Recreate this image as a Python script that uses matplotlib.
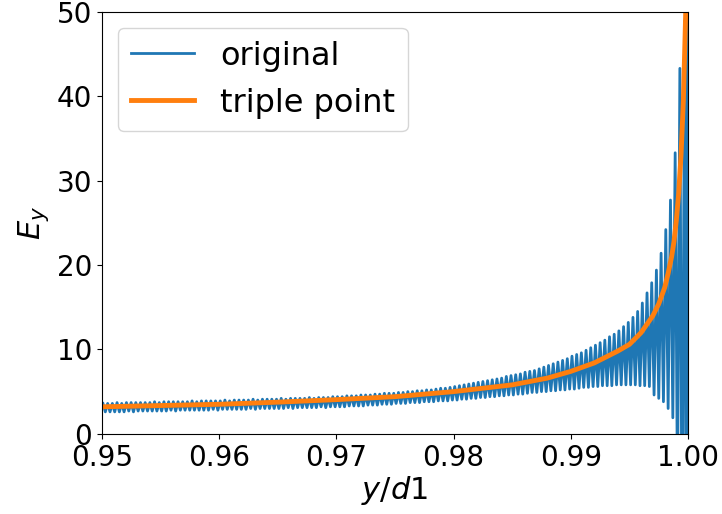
import matplotlib
matplotlib.use('Agg')
import matplotlib.pyplot as plt
import numpy as np

plt.rcParams['font.size'] = 22
plt.rcParams['xtick.labelsize'] = 20
plt.rcParams['ytick.labelsize'] = 20

# triple point curve
tp_x = [0.950, 0.955, 0.960, 0.965, 0.970, 0.975, 0.980, 0.985, 0.988, 0.990,
        0.992, 0.994, 0.995, 0.996, 0.997, 0.9975, 0.998, 0.9983, 0.9986,
        0.9988, 0.999, 0.9992, 0.9994, 0.9996, 0.9998, 0.9999]
tp_E = [3.2, 3.35, 3.5, 3.75, 4.05, 4.4, 5.0, 5.8, 6.6, 7.4,
        8.4, 9.8, 10.6, 12.0, 14.0, 15.4, 17.3, 19.0, 21.0,
        22.8, 25.3, 28.5, 33.0, 39.5, 50.0, 58.0]

# original (oscillating) field: one peak and one trough per mesh period
period = 0.0004
peaks = [3.6, 3.6, 3.6, 3.7, 3.6, 3.7, 3.7, 3.7, 3.7, 3.7, 3.7, 3.8, 3.7, 3.8, 3.8, 3.8, 3.8, 3.8, 3.8, 3.9, 3.8, 3.9, 3.9, 3.9, 3.9,
         3.9, 4.0, 3.9, 4.0, 4.0, 4.0, 4.0, 4.1, 4.0, 4.1, 4.1, 4.1, 4.1, 4.2, 4.1, 4.2, 4.2, 4.2, 4.2, 4.3, 4.2, 4.3, 4.3, 4.3, 4.4,
         4.4, 4.4, 4.5, 4.5, 4.5, 4.6, 4.6, 4.6, 4.7, 4.7, 4.8, 4.8, 4.8, 4.9, 4.9, 5.0, 5.0, 5.1, 5.1, 5.2, 5.2, 5.3, 5.4, 5.4, 5.5,
         5.6, 5.7, 5.8, 5.9, 6.0, 6.1, 6.2, 6.3, 6.4, 6.5, 6.6, 6.8, 6.9, 7.0, 7.1, 7.3, 7.4, 7.5, 7.7, 7.9, 8.1, 8.3, 8.5, 8.7, 8.9,
         9.2, 9.4, 9.6, 9.9, 10.2, 10.5, 10.8, 11.1, 11.5, 11.8, 12.2, 12.7, 13.2, 13.8, 14.5, 15.5, 16.7, 17.9, 19.4, 21.4, 24.2, 27.7, 33.3, 43.3, 48.9]
troughs = [2.6, 2.6, 2.6, 2.6, 2.6, 2.7, 2.6, 2.7, 2.7, 2.7, 2.7, 2.7, 2.7, 2.7, 2.8, 2.7, 2.8, 2.8, 2.8, 2.8, 2.8, 2.8, 2.8, 2.9, 2.8,
           2.9, 2.9, 2.9, 2.9, 2.9, 2.9, 3.0, 2.9, 3.0, 3.0, 3.0, 3.0, 3.0, 3.0, 3.1, 3.0, 3.1, 3.1, 3.1, 3.1, 3.1, 3.2, 3.1, 3.2, 3.2,
           3.2, 3.2, 3.3, 3.3, 3.3, 3.3, 3.4, 3.4, 3.4, 3.5, 3.5, 3.5, 3.6, 3.6, 3.6, 3.7, 3.7, 3.7, 3.8, 3.8, 3.8, 3.9, 3.9, 3.9, 4.0,
           4.0, 4.1, 4.1, 4.2, 4.2, 4.3, 4.3, 4.4, 4.4, 4.5, 4.5, 4.6, 4.6, 4.7, 4.7, 4.8, 4.9, 4.9, 5.0, 5.0, 5.1, 5.1, 5.2, 5.2, 5.3,
           5.3, 5.4, 5.5, 5.5, 5.6, 5.6, 5.7, 5.7, 5.7, 5.8, 5.8, 5.8, 5.8, 5.8, 5.7, 5.7, 5.6, 4.6, 4.2, 3.8, 3.0, 1.9, -8.0, -20.0, -35.0]
tail_x = [1.0]
tail_E = [200.0]

n = len(peaks)
start = np.arange(n) * period + 0.950
orig_x = np.column_stack([start + period / 4, start + 3 * period / 4]).ravel()
orig_E = np.column_stack([peaks, troughs]).ravel()
orig_x = np.concatenate([orig_x, tail_x])
orig_E = np.concatenate([orig_E, tail_E])

fig, ax = plt.subplots(figsize=(7.22, 5.14), dpi=100)
fig.subplots_adjust(left=0.141, right=0.953, top=0.977, bottom=0.156)

ax.plot(orig_x, orig_E, color='tab:blue', linewidth=2, label='original')
ax.plot(tp_x, tp_E, color='tab:orange', linewidth=3.5, label='triple point')

ax.set_xlim(0.95, 1.0)
ax.set_ylim(0, 50)
ax.set_xticks([0.95, 0.96, 0.97, 0.98, 0.99, 1.00])
ax.set_xlabel('$y/d1$', labelpad=2)
ax.set_ylabel('$E_y$')
ax.legend(loc='upper left', fontsize=23)

fig.savefig('out.png', dpi=100)
